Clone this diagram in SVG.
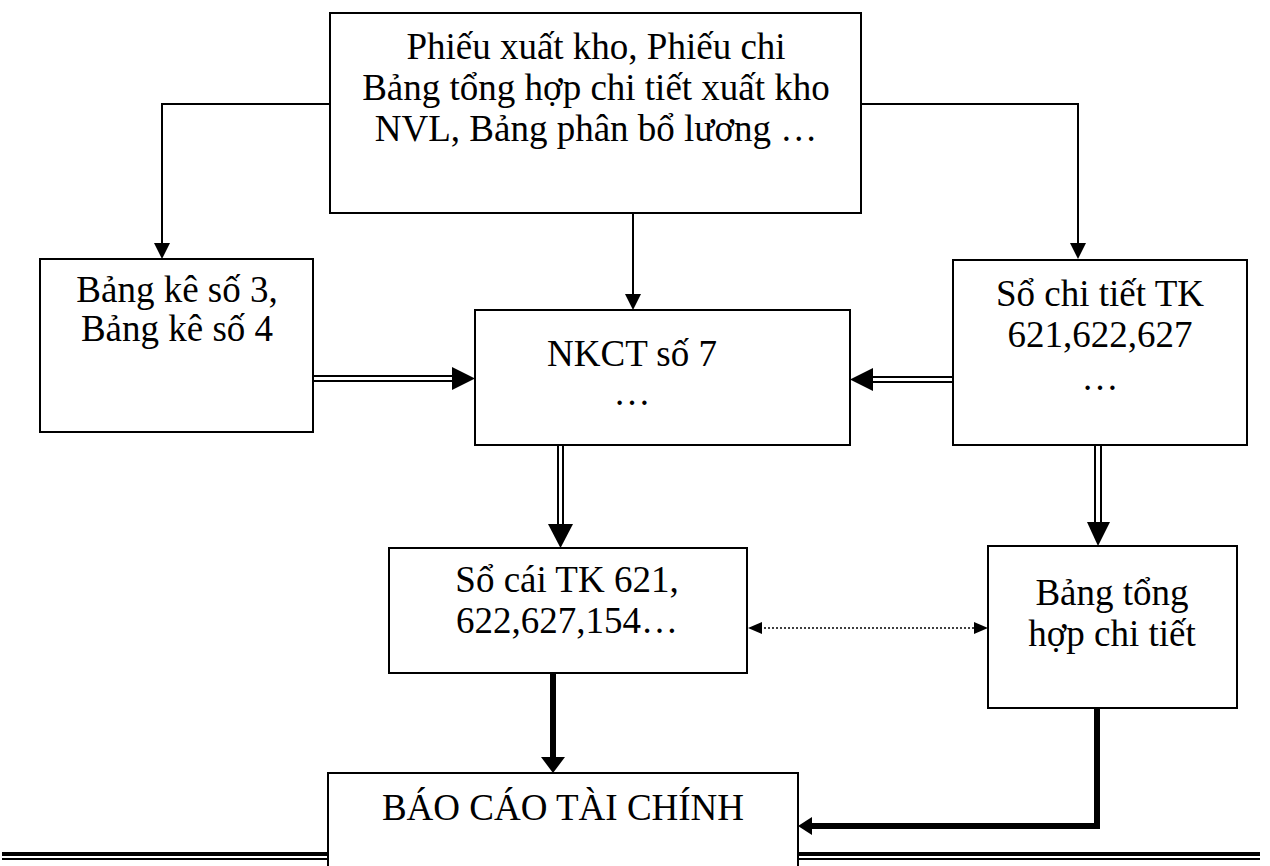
<svg xmlns="http://www.w3.org/2000/svg" width="1270" height="866" viewBox="0 0 1270 866">
  <style>
    .box { fill: #fff; stroke: #000; stroke-width: 2; }
    .lbl { font-family: "Liberation Serif", "Times New Roman", serif; font-size: 37px; fill: #000; text-anchor: middle; }
    .ln { fill: none; stroke: #000; stroke-width: 2; }
    .thick { fill: none; stroke: #000; stroke-width: 6; }
    .dot { fill: none; stroke: #000; stroke-width: 1.5; stroke-dasharray: 2 2; }
    .head { fill: #000; stroke: none; }
  </style>

  <!-- page rule at the bottom -->
  <g id="page-rule">
    <line x1="2" y1="854" x2="1260" y2="854" stroke="#000" stroke-width="4"/>
    <line x1="2" y1="859" x2="1260" y2="859" stroke="#000" stroke-width="2"/>
  </g>

  <g id="connectors">
    <!-- source documents to the three first-level books -->
    <path class="ln" d="M330,104 H162 V244"/>
    <polygon class="head" points="154,243 170,243 162,259"/>
    <path class="ln" d="M861,104 H1078 V244"/>
    <polygon class="head" points="1070,243 1086,243 1078,259"/>
    <path class="ln" d="M633,213 V295"/>
    <polygon class="head" points="625,294 641,294 633,310"/>

    <!-- double-line arrows into NKCT -->
    <line class="ln" x1="313" y1="376" x2="453" y2="376"/>
    <line class="ln" x1="313" y1="381" x2="453" y2="381"/>
    <polygon class="head" points="452,367 452,390 475,378.5"/>
    <line class="ln" x1="953" y1="377" x2="872" y2="377"/>
    <line class="ln" x1="953" y1="382" x2="872" y2="382"/>
    <polygon class="head" points="873,368 873,391 850,379.5"/>

    <!-- double-line arrows down to ledger and summary -->
    <line class="ln" x1="558" y1="445" x2="558" y2="525"/>
    <line class="ln" x1="563" y1="445" x2="563" y2="525"/>
    <polygon class="head" points="548,524 573,524 560.5,548"/>
    <line class="ln" x1="1095" y1="445" x2="1095" y2="523"/>
    <line class="ln" x1="1101" y1="445" x2="1101" y2="523"/>
    <polygon class="head" points="1087,522 1110,522 1098,546"/>

    <!-- dotted reconciliation link -->
    <line class="dot" x1="760" y1="628" x2="976" y2="628"/>
    <polygon class="head" points="748,628 762,622 762,634"/>
    <polygon class="head" points="988,628 974,622 974,634"/>

    <!-- heavy arrows into the financial report -->
    <line class="thick" x1="553" y1="673" x2="553" y2="758"/>
    <polygon class="head" points="541,757 565,757 553,773"/>
    <path class="thick" d="M1097,708 V826 H811"/>
    <polygon class="head" points="812,817 812,835 798,826"/>
  </g>

  <g id="chung-tu">
    <rect class="box" x="330" y="13" width="531" height="200"/>
    <text class="lbl" x="596" y="59">Phiếu xuất kho, Phiếu chi</text>
    <text class="lbl" x="596" y="100">Bảng tổng hợp chi tiết xuất kho</text>
    <text class="lbl" x="596" y="141">NVL, Bảng phân bổ lương …</text>
  </g>

  <g id="bang-ke">
    <rect class="box" x="40" y="259" width="273" height="173"/>
    <text class="lbl" x="177" y="302">Bảng kê số 3,</text>
    <text class="lbl" x="177" y="341">Bảng kê số 4</text>
  </g>

  <g id="nkct">
    <rect class="box" x="475" y="310" width="375" height="135"/>
    <text class="lbl" x="632" y="366">NKCT số 7</text>
    <text class="lbl" x="632" y="405">…</text>
  </g>

  <g id="so-chi-tiet">
    <rect class="box" x="953" y="260" width="294" height="185"/>
    <text class="lbl" x="1100" y="306">Sổ chi tiết TK</text>
    <text class="lbl" x="1100" y="347">621,622,627</text>
    <text class="lbl" x="1100" y="390">…</text>
  </g>

  <g id="so-cai">
    <rect class="box" x="389" y="548" width="358" height="125"/>
    <text class="lbl" x="567" y="592">Sổ cái TK 621,</text>
    <text class="lbl" x="567" y="633">622,627,154…</text>
  </g>

  <g id="bang-tong-hop">
    <rect class="box" x="988" y="546" width="249" height="162"/>
    <text class="lbl" x="1112" y="605">Bảng tổng</text>
    <text class="lbl" x="1112" y="646">hợp chi tiết</text>
  </g>

  <g id="bao-cao">
    <rect class="box" x="328" y="773" width="470" height="110"/>
    <text class="lbl" x="563" y="820">BÁO CÁO TÀI CHÍNH</text>
  </g>
</svg>
